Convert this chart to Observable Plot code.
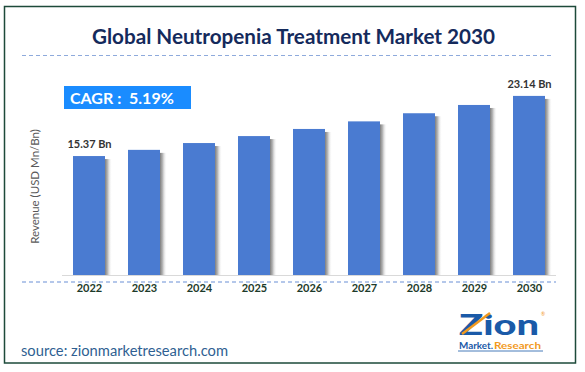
<!DOCTYPE html>
<html>
<head>
<meta charset="utf-8">
<script src="https://cdn.jsdelivr.net/npm/d3@7"></script>
<script src="https://cdn.jsdelivr.net/npm/@observablehq/plot@0.6"></script>
<style>
  html, body { margin: 0; padding: 0; background: #fff; }
  #wrap { position: relative; width: 585px; height: 372px; overflow: hidden; font-family: Lato, "Open Sans", sans-serif; }
  #wrap > svg { position: absolute; left: 0; top: 0; }
</style>
</head>
<body>
<div id="wrap"></div>
<script>
// ---- data ----
const years = ["2022", "2023", "2024", "2025", "2026", "2027", "2028", "2029", "2030"];
const values = [15.37, 16.17, 17.05, 17.95, 18.87, 19.85, 20.90, 21.97, 23.14];
const labelledYears = ["2022", "2030"];
const titleText = "Global Neutropenia Treatment Market 2030";
const cagrText = "CAGR :  5.19%";
const yLabel = "Revenue (USD Mn/Bn)";
const sourceText = "source: zionmarketresearch.com";

const data = years.map((year, i) => ({year, value: values[i]}));
const labelled = data.filter(d => labelledYears.includes(d.year));

const W = 585, H = 372;
const wrap = document.getElementById("wrap");

// ---- chart ----
const chart = Plot.plot({
  width: W,
  height: H,
  marginLeft: 62,
  marginRight: 29,
  marginTop: 60,
  marginBottom: 97,
  x: {type: "band", domain: years, paddingInner: 0.42, paddingOuter: 0.2, label: null, tickSize: 0, tickPadding: 9},
  y: {domain: [0, 27.78], axis: null},
  style: {fontFamily: "Lato, sans-serif", fontSize: "11px", fontWeight: "bold", color: "#1d3b2a", background: "transparent", overflow: "visible"},
  marks: [
    Plot.barY(data, {x: "year", y: "value", fill: "url(#shadowGrad)", dx: 7, insetTop: 3}),
    Plot.barY(data, {x: "year", y: "value", fill: "#4a7bd1"}),
    Plot.ruleY([0], {stroke: "#d9d9d9", strokeWidth: 1.2}),
    Plot.text(labelled, {x: "year", y: "value", text: d => d.value.toFixed(2) + " Bn", dy: -12, fill: "#333", fontSize: 11, fontWeight: "bold"}),
    Plot.text([yLabel], {frameAnchor: "left", textAnchor: "middle", rotate: -90, dx: -27, dy: 18.5, fill: "#595959", fontWeight: "normal", fontSize: 11.5})
  ]
});
wrap.appendChild(chart);

// gradient for bar shadows
const svgChart = d3.select(chart.tagName.toLowerCase() === "svg" ? chart : chart.querySelector("svg"));
const defs = svgChart.insert("defs", ":first-child");
const g = defs.append("linearGradient").attr("id", "shadowGrad").attr("x1", 0).attr("x2", 1).attr("y1", 0).attr("y2", 0);
g.append("stop").attr("offset", 0.76).attr("stop-color", "#6f6f6f");
g.append("stop").attr("offset", 0.86).attr("stop-color", "#b5b5b5");
g.append("stop").attr("offset", 1).attr("stop-color", "#ffffff").attr("stop-opacity", 0);

// ---- decorations overlay ----
const deco = d3.select(wrap).append("svg").attr("width", W).attr("height", H);

// border
deco.append("rect").attr("x", 4.5).attr("y", 6.5).attr("width", 571).attr("height", 356.5)
  .attr("fill", "none").attr("stroke", "#1d4a3a").attr("stroke-width", 1.5);

// title
deco.append("text").attr("x", 92).attr("y", 44).attr("textLength", 403).attr("lengthAdjust", "spacingAndGlyphs")
  .attr("font-family", "Lato, sans-serif").attr("font-weight", "bold").attr("font-size", 21)
  .attr("fill", "#142a5c").text(titleText);

// dashed lines
deco.append("line").attr("x1", 22).attr("x2", 554).attr("y1", 55.5).attr("y2", 55.5)
  .attr("stroke", "#8eaadc").attr("stroke-width", 1.2).attr("stroke-dasharray", "4,3");
deco.append("line").attr("x1", 22).attr("x2", 556).attr("y1", 282).attr("y2", 282)
  .attr("stroke", "#6a8fd6").attr("stroke-width", 1.2).attr("stroke-dasharray", "4,3");

// CAGR box
deco.append("rect").attr("x", 64).attr("y", 86).attr("width", 127).attr("height", 23).attr("fill", "#1a8cff");
deco.append("text").attr("x", 70).attr("y", 103.5).attr("font-family", "Lato, sans-serif").attr("font-weight", "bold")
  .attr("font-size", 16).attr("fill", "#fff").attr("xml:space", "preserve").style("white-space", "pre").text(cagrText);

// source
deco.append("text").attr("x", 21).attr("y", 356).attr("textLength", 207).attr("lengthAdjust", "spacingAndGlyphs")
  .attr("font-family", "Lato, sans-serif").attr("font-size", 14.5).attr("fill", "#2f5f92").text(sourceText);

// logo
const logo = deco.append("g");
logo.append("text").attr("x", 459).attr("y", 335).attr("textLength", 80).attr("lengthAdjust", "spacingAndGlyphs")
  .attr("font-family", "Lato, sans-serif").attr("font-weight", 900).attr("font-size", 28).attr("fill", "#1a5aa8").text("Zion");
logo.append("line").attr("x1", 462).attr("y1", 334).attr("x2", 490).attr("y2", 313)
  .attr("stroke", "#f29a1f").attr("stroke-width", 2.5);
logo.append("text").attr("x", 541).attr("y", 316).attr("font-size", 5).attr("fill", "#f29a1f").text("®");
logo.append("text").attr("x", 459).attr("y", 349).attr("font-family", "Lato, sans-serif").attr("font-weight", "bold")
  .attr("font-size", 9).attr("textLength", 34).attr("lengthAdjust", "spacingAndGlyphs").attr("fill", "#1a5aa8").text("Market.");
logo.append("text").attr("x", 494).attr("y", 349).attr("font-family", "Lato, sans-serif").attr("font-weight", "bold")
  .attr("font-size", 9).attr("textLength", 47).attr("lengthAdjust", "spacingAndGlyphs").attr("fill", "#f29a1f").text("Research");
logo.append("line").attr("x1", 458).attr("x2", 543).attr("y1", 351).attr("y2", 351).attr("stroke", "#1a5aa8").attr("stroke-width", 0.8);
</script>
</body>
</html>
